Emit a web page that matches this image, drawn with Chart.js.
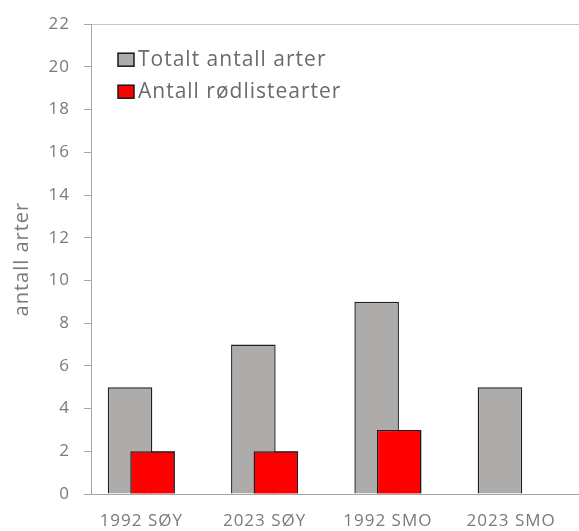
<!DOCTYPE html>
<html>
<head>
<meta charset="utf-8">
<script src="https://cdn.jsdelivr.net/npm/chart.js@4"></script>
<style>
  html, body { margin: 0; padding: 0; background: #fff; overflow: hidden; }
  #wrap { width: 579px; height: 531px; }
</style>
</head>
<body>
<div id="wrap"><canvas id="artChart" width="579" height="531"></canvas></div>
<script>
// data
const categories = ['1992 SØY', '2023 SØY', '1992 SMO', '2023 SMO'];
const totalSpecies = [5, 7, 9, 5];
const redListSpecies = [2, 2, 3, 0];
const seriesNames = ['Totalt antall arter', 'Antall rødlistearter'];
const yTicks = [0, 2, 4, 6, 8, 10, 12, 14, 16, 18, 20, 22];

const FONT = '"Open Sans", "DejaVu Sans", sans-serif';
const axisGray = '#a6a6a6';
const textGray = '#7a7a7a';

// the Excel original has slightly spaced-out text
const wideText = {
  id: 'wideText',
  beforeLayout(chart) { chart.ctx.letterSpacing = '1px'; },
  beforeDraw(chart) { chart.ctx.letterSpacing = '1px'; }
};

// red bars sit on top of the grey ones (Excel overlap)
const redOnTop = {
  id: 'redOnTop',
  afterDatasetsDraw(chart) {
    chart.getDatasetMeta(1).controller.draw();
  }
};

// legend drawn inside the plot area, top left
const insideLegend = {
  id: 'insideLegend',
  afterDraw(chart) {
    const { ctx, chartArea } = chart;
    ctx.save();
    ctx.font = '21px ' + FONT;
    ctx.letterSpacing = '1px';
    ctx.textBaseline = 'middle';
    chart.data.datasets.forEach((ds, i) => {
      const x = chartArea.left + 27;
      const y = chartArea.top + 29 + i * 32;
      ctx.fillStyle = ds.backgroundColor;
      ctx.fillRect(x, y, 16, 13);
      ctx.strokeStyle = '#1a1a1a';
      ctx.lineWidth = 1.5;
      ctx.strokeRect(x, y, 16, 13);
      ctx.fillStyle = '#6b6b6b';
      ctx.fillText(ds.label, x + 20, y + 7);
    });
    ctx.restore();
  }
};

const ctx = document.getElementById('artChart').getContext('2d');
new Chart(ctx, {
  type: 'bar',
  data: {
    labels: categories.map((c, i) => i),
    datasets: [{
      label: seriesNames[0],
      data: totalSpecies,
      backgroundColor: '#aeabab',
      borderColor: '#1f1f1f',
      borderWidth: 1.4,
      inflateAmount: 0
    }, {
      label: seriesNames[1],
      data: redListSpecies,
      backgroundColor: '#ff0000',
      borderColor: '#1f1f1f',
      borderWidth: 1.4,
      inflateAmount: 0
    }]
  },
  options: {
    responsive: false,
    animation: false,
    categoryPercentage: 0.365,
    barPercentage: 1.98,
    layout: { padding: { top: 21, right: 0, bottom: 0, left: 0 } },
    plugins: { legend: { display: false }, tooltip: { enabled: false } },
    scales: {
      x: {
        type: 'linear',
        offset: false,
        min: -0.408,
        max: 3.55,
        afterBuildTicks: s => { s.ticks = categories.map((c, i) => ({ value: i })); },
        grid: { display: true, drawOnChartArea: false, drawTicks: false },
        border: { color: axisGray, width: 1 },
        ticks: {
          callback: v => categories[v],
          color: textGray,
          font: { family: FONT, size: 17 },
          padding: 17,
          maxRotation: 0,
          autoSkip: false
        },
        afterFit: s => { s.height = 37; }
      },
      y: {
        min: 0,
        max: 22,
        afterBuildTicks: s => { s.ticks = yTicks.map(v => ({ value: v })); },
        grid: {
          drawOnChartArea: true,
          color: c => (c.tick && c.tick.value === 22 ? '#c4c4c4' : 'rgba(0,0,0,0)'),
          tickColor: axisGray,
          tickLength: 7
        },
        border: { color: axisGray, width: 1 },
        ticks: { color: textGray, font: { family: FONT, size: 17 }, padding: 14 },
        title: {
          display: true,
          text: 'antall arter',
          color: textGray,
          font: { family: FONT, size: 20 },
          padding: { top: 10, bottom: 0 }
        },
        afterFit: s => { s.width = 91; }
      }
    }
  },
  plugins: [wideText, redOnTop, insideLegend]
});
</script>
</body>
</html>
